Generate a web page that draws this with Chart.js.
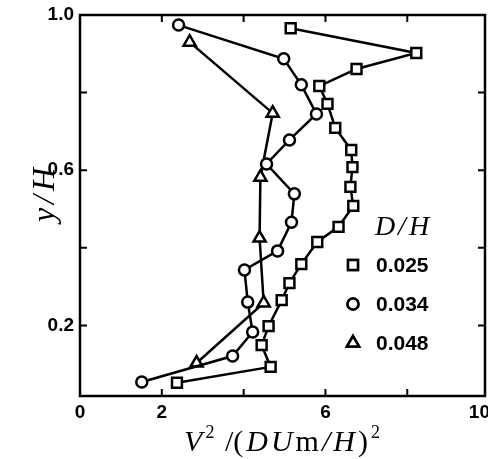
<!DOCTYPE html>
<html lang="en">
<head>
    <meta charset="UTF-8">
    <title>V2 profile</title>
    <style>
        html, body { margin: 0; padding: 0; background: #fff; overflow: hidden; }
        #wrap { width: 488px; height: 459px; position: relative; }
    </style>
    <script src="https://cdn.jsdelivr.net/npm/chart.js"></script>
</head>
<body>
    <div id="wrap"><canvas id="graphic"></canvas></div>
    <script>
        // D/H = 0.025 (squares)
        const squareX = [5.15, 8.22, 6.76, 5.85, 6.05, 6.24, 6.63, 6.66, 6.61, 6.68, 6.32, 5.80, 5.41, 5.12, 4.93, 4.61, 4.44, 4.66, 2.37];
        const squareY = [0.966, 0.902, 0.861, 0.817, 0.771, 0.709, 0.652, 0.608, 0.557, 0.508, 0.454, 0.415, 0.358, 0.309, 0.265, 0.198, 0.149, 0.093, 0.052];
        // D/H = 0.034 (circles)
        const circleX = [2.41, 4.98, 5.41, 5.78, 5.12, 4.56, 5.24, 5.17, 4.83, 4.02, 4.10, 4.22, 3.73, 1.51];
        const circleY = [0.974, 0.887, 0.820, 0.745, 0.678, 0.616, 0.539, 0.466, 0.392, 0.343, 0.260, 0.183, 0.121, 0.054];
        // D/H = 0.048 (triangles)
        const triangleX = [2.68, 4.71, 4.41, 4.39, 4.49, 2.85];
        const triangleY = [0.930, 0.747, 0.582, 0.425, 0.258, 0.103];

        const seriesNames = ["0.025", "0.034", "0.048"];
        const xTicks = [2, 4, 6, 8];
        const yTicks = [0.2, 0.4, 0.6, 0.8];
        const xLabelValues = [0, 2, 6, 10];
        const xLabelText = ["0", "2", "6", "10"];
        const yLabelValues = [1.0, 0.6, 0.2];
        const yLabelText = ["1.0", "0.6", "0.2"];

        const toPoints = (xs, ys) => xs.map((x, i) => ({ x: x, y: ys[i] }));

        function makeSet(label, xs, ys, style, r) {
            return {
                label: label,
                data: toPoints(xs, ys),
                showLine: true,
                borderColor: "#000",
                borderWidth: 2.5,
                pointStyle: style,
                pointRadius: r,
                pointBorderWidth: 2.5,
                pointBackgroundColor: "#fff",
                pointBorderColor: "#000",
                clip: false
            };
        }

        const datasets = [
            makeSet(seriesNames[0], squareX, squareY, "rect", 7),
            makeSet(seriesNames[1], circleX, circleY, "circle", 5.5),
            makeSet(seriesNames[2], triangleX, triangleY, "triangle", 7)
        ];

        function drawRich(ctx, parts, cx, baseY, size, gap) {
            const fontOf = p => (p.it ? "italic " : "") + Math.round(p.sup ? size * 0.6 : size) + "px 'Liberation Serif'";
            let total = 0;
            parts.forEach(p => { ctx.font = fontOf(p); p.w = ctx.measureText(p.t).width; total += p.w + gap; });
            total -= gap;
            let x = cx - total / 2;
            ctx.textAlign = "left";
            ctx.textBaseline = "alphabetic";
            parts.forEach(p => {
                ctx.font = fontOf(p);
                ctx.fillText(p.t, x, p.sup ? baseY - size * 0.42 : baseY);
                x += p.w + gap;
            });
        }

        const framePlugin = {
            id: "frame",
            afterDraw(chart) {
                const ctx = chart.ctx;
                const a = chart.chartArea;
                const xs = chart.scales.x, ys = chart.scales.y;
                ctx.save();
                ctx.strokeStyle = "#000";
                ctx.fillStyle = "#000";
                ctx.lineWidth = 2.5;
                ctx.strokeRect(a.left, a.top, a.right - a.left, a.bottom - a.top);

                ctx.lineWidth = 2;
                ctx.beginPath();
                xTicks.forEach(v => {
                    const px = xs.getPixelForValue(v);
                    ctx.moveTo(px, a.bottom); ctx.lineTo(px, a.bottom - 7);
                    ctx.moveTo(px, a.top); ctx.lineTo(px, a.top + 7);
                });
                yTicks.forEach(v => {
                    const py = ys.getPixelForValue(v);
                    ctx.moveTo(a.left, py); ctx.lineTo(a.left + 7, py);
                    ctx.moveTo(a.right, py); ctx.lineTo(a.right - 7, py);
                });
                ctx.stroke();

                // tick labels (last one kept inside the canvas)
                ctx.font = "bold 19px 'Liberation Sans'";
                ctx.textAlign = "center";
                ctx.textBaseline = "top";
                xLabelValues.forEach((v, i) => {
                    const w = ctx.measureText(xLabelText[i]).width;
                    const px = Math.min(xs.getPixelForValue(v), chart.width - w / 2 + 2);
                    ctx.fillText(xLabelText[i], px, a.bottom + 7);
                });
                ctx.textAlign = "right";
                ctx.textBaseline = "middle";
                yLabelValues.forEach((v, i) => {
                    ctx.fillText(yLabelText[i], a.left - 6, ys.getPixelForValue(v));
                });

                // axis titles
                drawRich(ctx, [
                    { t: "V", it: true }, { t: "2", sup: true }, { t: " /(" },
                    { t: "D", it: true }, { t: "U", it: true }, { t: "m" },
                    { t: "/", it: true }, { t: "H", it: true }, { t: ")" }, { t: "2", sup: true }
                ], 282, 451, 30, 3);

                ctx.save();
                ctx.translate(44, 195);
                ctx.rotate(-Math.PI / 2);
                drawRich(ctx, [{ t: "y", it: true }, { t: "/", it: true }, { t: "H", it: true }], 0, 10, 32, 4);
                ctx.restore();

                // legend
                drawRich(ctx, [{ t: "D", it: true }, { t: "/", it: true }, { t: "H", it: true }], 402, 235, 28, 3);
                const rows = [265, 304, 343];
                chart.data.datasets.forEach((ds, i) => {
                    ctx.lineWidth = 2.5;
                    ctx.fillStyle = "#fff";
                    Chart.helpers.drawPoint(ctx, {
                        pointStyle: ds.pointStyle, radius: ds.pointRadius, borderWidth: 2.5, rotation: 0
                    }, 353, rows[i]);
                    ctx.fill();
                    ctx.stroke();
                    ctx.fillStyle = "#000";
                    ctx.font = "bold 21px 'Liberation Sans'";
                    ctx.textAlign = "left";
                    ctx.textBaseline = "middle";
                    ctx.fillText(ds.label, 376, rows[i] + 1);
                });
                ctx.restore();
            }
        };

        new Chart(document.getElementById("graphic"), {
            type: "scatter",
            data: { datasets },
            options: {
                responsive: true,
                maintainAspectRatio: false,
                animation: false,
                layout: { autoPadding: false, padding: { top: 15, right: 3, left: 0, bottom: 0 } },
                plugins: { legend: { display: false }, tooltip: { enabled: false } },
                scales: {
                    x: {
                        type: "linear",
                        min: 0,
                        max: 9.9,
                        grid: { display: false },
                        border: { display: false },
                        ticks: { display: false },
                        afterFit: s => { s.height = 63; }
                    },
                    y: {
                        type: "linear",
                        min: 0.018,
                        max: 1.0,
                        grid: { display: false },
                        border: { display: false },
                        ticks: { display: false },
                        afterFit: s => { s.width = 80; }
                    }
                }
            },
            plugins: [framePlugin]
        });
    </script>
</body>
</html>
